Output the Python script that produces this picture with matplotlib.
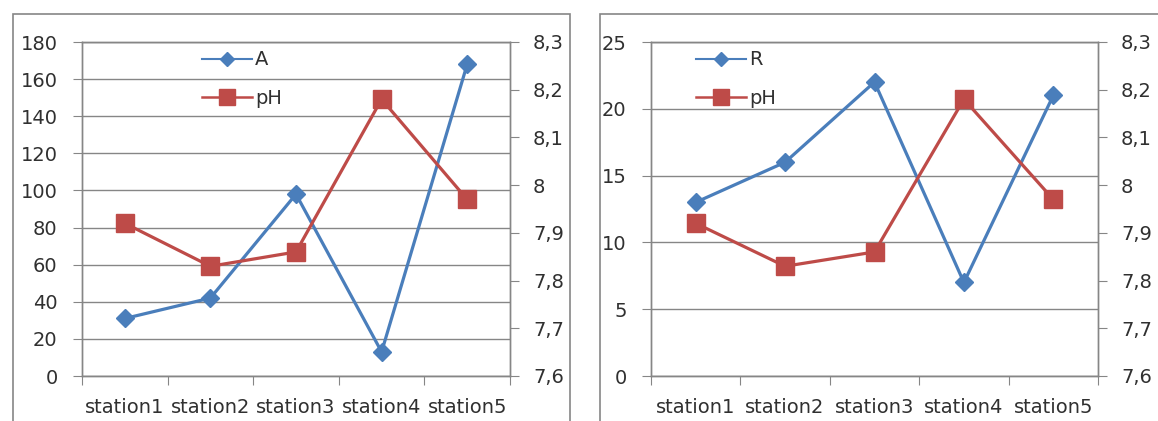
import matplotlib
import matplotlib.pyplot as plt
from matplotlib.lines import Line2D
from matplotlib.patches import Rectangle
from matplotlib.ticker import FixedLocator, FuncFormatter

matplotlib.use('Agg')
plt.rcParams['font.family'] = ['DejaVu Sans']

stations = ["station1", "station2", "station3", "station4", "station5"]
a_values = [31, 42, 98, 13, 168]
r_values = [13, 16, 22, 7, 21]
ph_values = [7.92, 7.83, 7.86, 8.18, 7.97]

BLUE = "#4A7EBB"
RED = "#BE4B48"
GRAY = "#868686"
TXT = "#303030"
FS = 14

W, H = 1158, 421
fig = plt.figure(figsize=(W / 100, H / 100), dpi=100)


def px(x0, y0, x1, y1):
    return [x0 / W, 1 - y1 / H, (x1 - x0) / W, (y1 - y0) / H]


def comma(v, pos):
    s = f"{v:.1f}".replace(".", ",")
    return s[:-2] if s.endswith(",0") else s


def panel(rect, vals, name, ymax, ystep, leg_x):
    ax = fig.add_axes(rect)
    ax2 = ax.twinx()
    x = list(range(len(stations)))

    ax.set_xlim(-0.5, len(stations) - 0.5)
    ax.set_ylim(0, ymax)
    ax.set_yticks(range(0, ymax + 1, ystep))
    ax.yaxis.grid(True, color=GRAY, linewidth=1)
    ax.set_axisbelow(True)

    ax.xaxis.set_major_locator(FixedLocator([i - 0.5 for i in range(len(stations) + 1)]))
    ax.xaxis.set_minor_locator(FixedLocator(x))
    ax.set_xticklabels([], minor=False)
    ax.set_xticklabels(stations, minor=True)
    ax.tick_params(axis='x', which='major', length=6.5, color=GRAY)
    ax.tick_params(axis='x', which='minor', length=0, pad=16, labelsize=FS, labelcolor=TXT)
    ax.tick_params(axis='y', length=6.5, color=GRAY, labelsize=FS, labelcolor=TXT, pad=11)

    ax2.set_ylim(7.6, 8.3)
    ax2.set_yticks([7.6, 7.7, 7.8, 7.9, 8.0, 8.1, 8.2, 8.3])
    ax2.yaxis.set_major_formatter(FuncFormatter(comma))
    ax2.tick_params(axis='y', length=6.5, color=GRAY, labelsize=FS, labelcolor=TXT, pad=10)

    for a in (ax, ax2):
        for sp in a.spines.values():
            sp.set_color(GRAY)
            sp.set_linewidth(1)

    ax.plot(x, vals, color=BLUE, linewidth=2.3, marker='D', markersize=9, zorder=3)
    ax2.plot(x, ph_values, color=RED, linewidth=2.3, marker='s', markersize=13, zorder=3)

    handles = [Line2D([], [], color=BLUE, linewidth=1.5, marker='D', markersize=7),
               Line2D([], [], color=RED, linewidth=1.8, marker='s', markersize=11)]
    ax2.legend(handles=handles, labels=[name, "pH"], loc='upper left',
               bbox_to_anchor=(leg_x, 0.975), frameon=False, fontsize=FS,
               handlelength=2.6, handletextpad=0.15, labelspacing=1.0,
               borderaxespad=0, borderpad=0, labelcolor=TXT)
    return ax


panel(px(82, 42, 510, 376), a_values, "A", 180, 20, 0.28)
panel(px(651, 42, 1098, 376), r_values, "R", 25, 5, 0.1)

# chart frames
for x0, x1 in [(13, 570), (600, 1170)]:
    fig.patches.append(Rectangle((x0 / W, -0.05), (x1 - x0) / W, 1.05 - 14 / H,
                                 transform=fig.transFigure, fill=False,
                                 edgecolor=GRAY, linewidth=1.2))

fig.savefig("out.png", dpi=100)
